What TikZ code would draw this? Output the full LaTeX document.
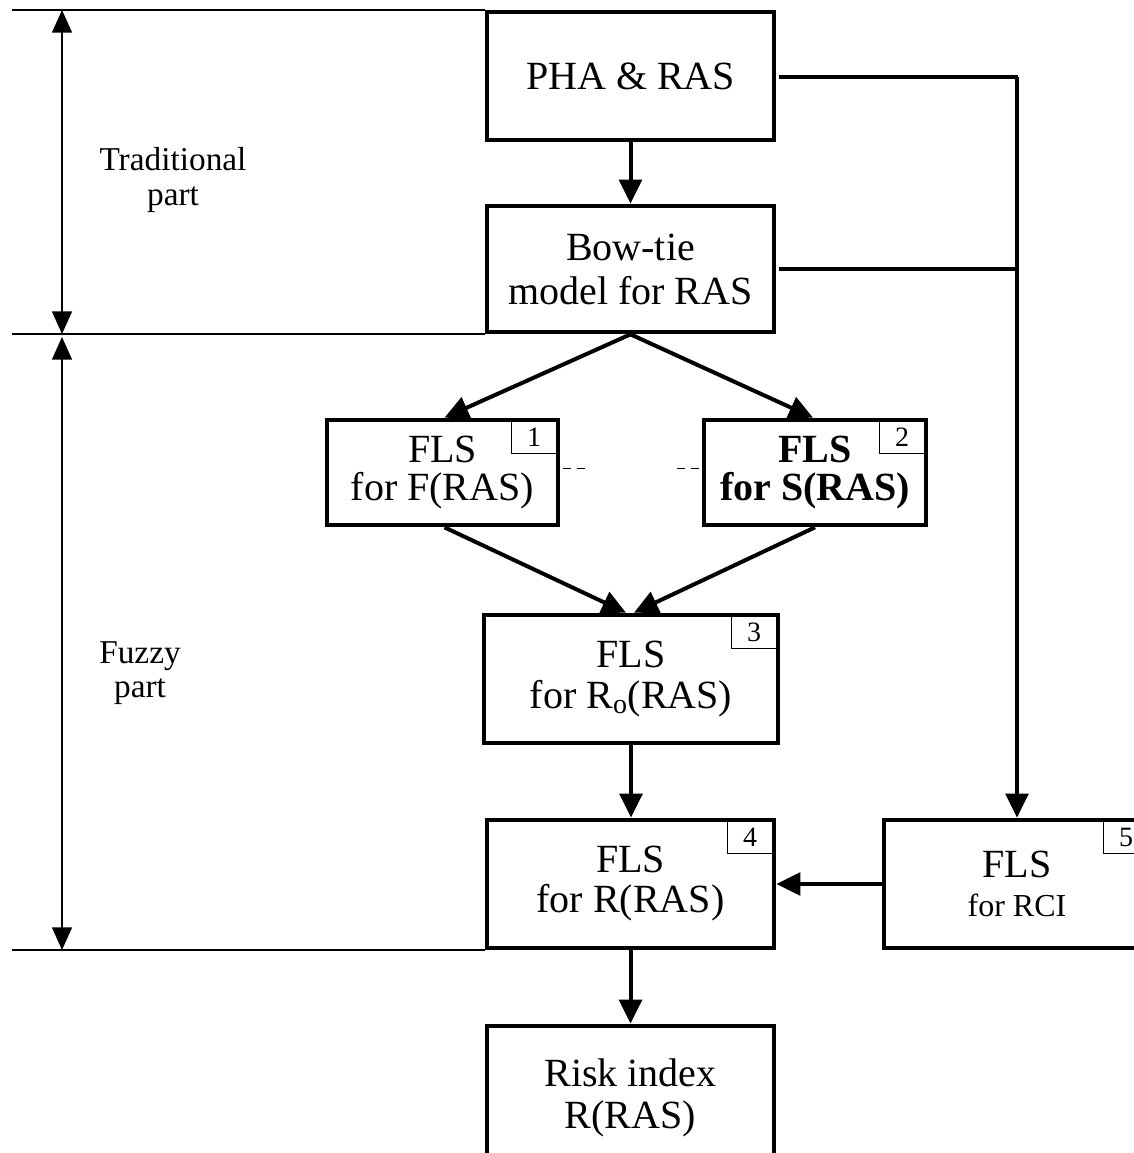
\documentclass[tikz,border=0pt]{standalone}
\usepackage{fontspec}
\setmainfont{Liberation Serif}
\usetikzlibrary{arrows.meta,calc}

\begin{document}
\begin{tikzpicture}[x=0.75pt,y=-0.75pt,
  box/.style={draw, line width=3.5pt, inner sep=0pt, align=center,
              font=\fontsize{30}{33}\selectfont},
  conn/.style={line width=3pt, -{Triangle[length=18pt,width=17pt]}},
  feed/.style={line width=3.5pt},
  thinline/.style={line width=1.2pt},
  dimline/.style={line width=1.1pt,
                  {Triangle[length=17pt,width=15pt]}-{Triangle[length=17pt,width=15pt]}},
  stub/.style={line width=1.1pt, dash pattern=on 6pt off 4pt},
  tag/.style={draw, line width=0.9pt, minimum width=34.5pt, minimum height=24.75pt,
              inner sep=0pt, anchor=north east, font=\fontsize{21}{21}\selectfont},
  side/.style={align=center, font=\fontsize{25}{26}\selectfont}
]
\useasboundingbox (0,0) rectangle (1133,1153);

% process boxes
\node[box, minimum width=215.25pt, minimum height=96pt] (pha) at (630.5,76) {PHA \& RAS};
\node[box, minimum width=215.25pt, minimum height=94.5pt] (bow) at (630.5,269) {Bow-tie\\model for RAS};
\node[box, minimum width=173.25pt, minimum height=78.75pt,
      font=\fontsize{30}{29}\selectfont] (f1) at (442.5,472.5) {FLS\\for F(RAS)};
\node[box, minimum width=166.5pt, minimum height=78.75pt,
      font=\fontsize{30}{29}\selectfont\bfseries] (f2) at (815,472.5) {FLS\\for S(RAS)};
\node[box, minimum width=220.5pt, minimum height=96pt,
      font=\fontsize{30}{31}\selectfont] (f3) at (631,679) {FLS\\for R\textsubscript{o}(RAS)};
\node[box, minimum width=215.25pt, minimum height=96pt,
      font=\fontsize{30}{30}\selectfont] (f4) at (630.5,884) {FLS\\for R(RAS)};
\node[box, minimum width=199.5pt, minimum height=96pt,
      font=\fontsize{30}{29}\selectfont] (f5) at (1017,884) {FLS\\{\fontsize{24}{26}\selectfont for RCI}};
\node[box, minimum width=215.25pt, minimum height=108pt,
      font=\fontsize{30}{32}\selectfont] (risk) at (630.5,1098) {Risk index\\R(RAS)};

% numbered corner tags
\node[tag] (t1) at ($(f1.north east)+(-2.5,2.5)$) {1};
\node[tag] (t2) at ($(f2.north east)+(-2.5,2.5)$) {2};
\node[tag] (t3) at ($(f3.north east)+(-2.5,2.5)$) {3};
\node[tag] (t4) at ($(f4.north east)+(-2.5,2.5)$) {4};
\node[tag] (t5) at ($(f5.north east)+(-2.5,2.5)$) {5};

% main flow
\draw[conn] (pha.south) -- (bow.north);
\draw[conn] (bow.south) -- ($(f1.north)+(2,0)$);
\draw[conn] (bow.south) -- ($(f2.north)+(-2,0)$);
\draw[conn] ($(f1.south)+(2,0)$) -- ($(f3.north)+(-5,0)$);
\draw[conn] (f2.south) -- ($(f3.north)+(3,0)$);
\draw[conn] (f3.south) -- (f3.south |- f4.north);
\draw[conn] (f4.south) -- (risk.north);
\draw[conn] (f5.west) -- (f4.east);

% feed to the RCI system
\coordinate (jt) at (1017,77);
\coordinate (jb) at (1017,269);
\draw[feed] ($(pha.east)+(3,1)$) -- ($(jt)+(1.3,0)$);
\draw[feed] ($(bow.east)+(3,0)$) -- (jb);
\draw[line width=2.7pt, -{Triangle[length=18pt,width=17pt]}] (jt) -- (f5.north);

% dashed stubs between the two FLS boxes
\draw[stub] ($(f1.east)+(3,-4)$) -- +(24,0);
\draw[stub] ($(f2.west)+(-3,-4)$) -- +(-24,0);

% part separators and extents
\coordinate (l1) at (12,10);
\coordinate (l2) at (12,334);
\coordinate (l3) at (12,950);
\draw[thinline] (l1) -- (l1 -| pha.west);
\draw[thinline] (l2) -- (l2 -| bow.west);
\draw[thinline] (l3) -- (l3 -| f4.west);
\coordinate (d1) at (62,10);
\coordinate (d2) at (62,334);
\coordinate (d3) at (62,337);
\coordinate (d4) at (62,950);
\draw[dimline] (d1) -- (d2);
\draw[dimline] (d3) -- (d4);

\node[side] (trad) at (173,180) {Traditional\\part};
\node[side] (fuzzy) at (140,673) {Fuzzy\\part};
\end{tikzpicture}
\end{document}
